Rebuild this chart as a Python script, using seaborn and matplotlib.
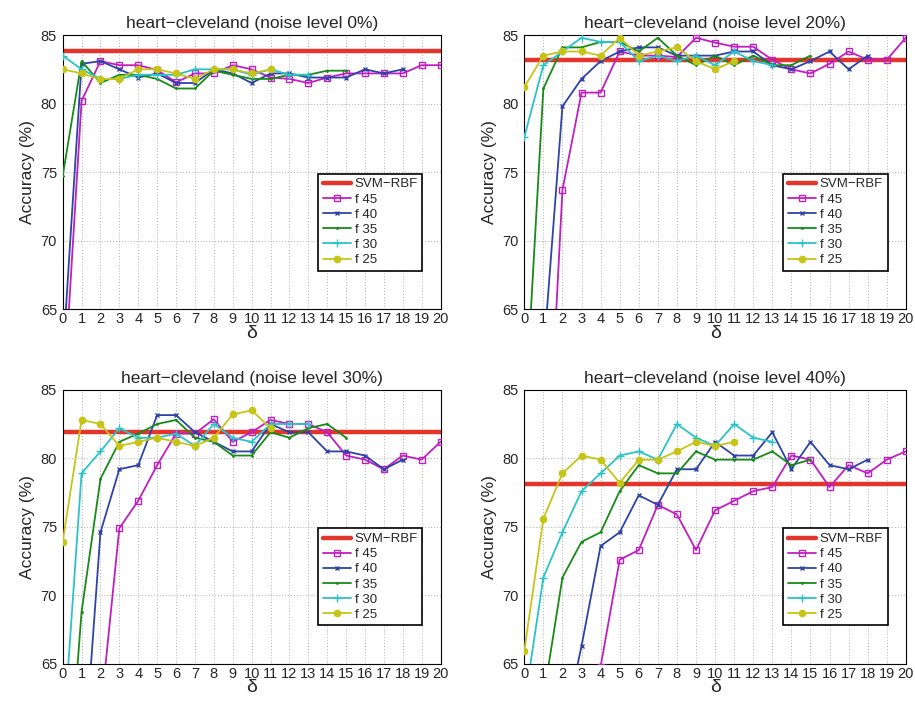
import numpy as np
import pandas as pd
import matplotlib
matplotlib.use('Agg')
import matplotlib.pyplot as plt
import seaborn as sns

# delta values
delta = list(range(21))

noise_levels = ['0%', '20%', '30%', '40%']
svm_rbf = [83.8, 83.15, 81.9, 78.15]

# noise 0%
n0_f45 = [57.5, 80.2, 83.1, 82.8, 82.8, 82.45, 81.55, 82.2, 82.2, 82.8, 82.5, 81.9, 81.8, 81.5, 81.9, 82.2, 82.2, 82.2, 82.2, 82.8, 82.8]
n0_f40 = [61.3, 82.9, 83.1, 82.5, 81.9, 82.2, 81.5, 81.5, 82.5, 82.2, 81.5, 82.2, 82.2, 81.9, 81.9, 81.9, 82.5, 82.2, 82.5]
n0_f35 = [74.7, 83.1, 81.5, 82.1, 82.1, 81.8, 81.1, 81.1, 82.4, 82.1, 81.8, 81.8, 82.1, 82.1, 82.4, 82.4]
n0_f30 = [83.5, 82.5, 81.8, 81.8, 82.1, 82.1, 82.1, 82.5, 82.5, 82.5, 82.1, 82.5, 82.1, 82.1]
n0_f25 = [82.5, 82.2, 81.8, 81.8, 82.5, 82.5, 82.2, 81.8, 82.5, 82.5, 82.2, 82.5]

# noise 20%
n20_f45 = [45.0, 46.6, 73.7, 80.8, 80.8, 83.8, 83.5, 83.5, 83.4, 84.8, 84.45, 84.15, 84.15, 83.2, 82.5, 82.2, 82.9, 83.8, 83.2, 83.2, 84.8]
n20_f40 = [55.0, 61.5, 79.8, 81.8, 83.1, 83.8, 84.1, 84.1, 83.5, 83.5, 83.5, 83.8, 83.8, 82.8, 82.5, 83.1, 83.8, 82.5, 83.5]
n20_f35 = [56.3, 81.1, 84.1, 84.1, 84.5, 84.5, 83.8, 84.8, 83.5, 82.8, 83.5, 82.8, 83.5, 82.8, 82.8, 83.5]
n20_f30 = [77.55, 82.8, 83.8, 84.8, 84.5, 84.5, 83.1, 83.5, 83.1, 83.5, 82.8, 83.8, 83.1, 82.8]
n20_f25 = [81.2, 83.5, 83.8, 83.8, 83.5, 84.8, 83.5, 83.8, 84.1, 83.1, 82.5, 83.1]

# noise 30%
n30_f45 = [50.0, 55.0, 61.3, 74.9, 76.9, 79.5, 81.8, 81.8, 82.85, 81.2, 81.9, 82.8, 82.5, 82.5, 81.9, 80.2, 79.9, 79.2, 80.2, 79.9, 81.2]
n30_f40 = [50.0, 55.4, 74.6, 79.2, 79.5, 83.15, 83.15, 81.9, 81.2, 80.5, 80.5, 82.5, 81.9, 81.9, 80.5, 80.5, 80.2, 79.2, 79.9]
n30_f35 = [50.6, 68.8, 78.5, 81.2, 81.8, 82.5, 82.8, 81.5, 81.2, 80.2, 80.2, 81.9, 81.5, 82.2, 82.5, 81.5]
n30_f30 = [59.0, 78.9, 80.5, 82.2, 81.5, 81.5, 81.8, 80.9, 82.5, 81.5, 81.2, 82.5, 82.5, 82.5]
n30_f25 = [73.9, 82.8, 82.5, 80.9, 81.2, 81.5, 81.2, 80.9, 81.5, 83.2, 83.5, 82.2]

# noise 40%
n40_f45 = [50.0, 54.0, 58.0, 61.0, 64.8, 72.6, 73.3, 76.6, 75.9, 73.3, 76.2, 76.9, 77.6, 77.9, 80.2, 79.9, 77.9, 79.5, 78.9, 79.9, 80.5]
n40_f40 = [52.0, 56.0, 59.8, 66.3, 73.6, 74.6, 77.3, 76.6, 79.2, 79.2, 81.2, 80.2, 80.2, 81.9, 79.2, 81.2, 79.5, 79.2, 79.9]
n40_f35 = [55.0, 62.5, 71.3, 73.9, 74.6, 77.6, 79.5, 78.9, 78.9, 80.5, 79.9, 79.9, 79.9, 80.5, 79.5, 79.9]
n40_f30 = [62.0, 71.3, 74.6, 77.6, 78.9, 80.2, 80.5, 79.9, 82.5, 81.5, 80.9, 82.5, 81.5, 81.2]
n40_f25 = [65.95, 75.6, 78.9, 80.2, 79.9, 78.2, 79.9, 79.9, 80.5, 81.2, 80.9, 81.2]

panels = [
    [n0_f45, n0_f40, n0_f35, n0_f30, n0_f25],
    [n20_f45, n20_f40, n20_f35, n20_f30, n20_f25],
    [n30_f45, n30_f40, n30_f35, n30_f30, n30_f25],
    [n40_f45, n40_f40, n40_f35, n40_f30, n40_f25],
]
series_names = ['f 45', 'f 40', 'f 35', 'f 30', 'f 25']
colors = ['#bf1fbf', '#2e43a6', '#178a17', '#2cc3c8', '#c6c416']
markers = ['s', 'x', '.', '+', 'o']
msizes = [4.5, 3.5, 2, 5.5, 4.5]

sns.set_style('white')
plt.rcParams['font.family'] = ['Liberation Sans', 'DejaVu Sans']

fig = plt.figure(figsize=(9.15, 7.01), dpi=100)
positions = [
    [0.0685, 0.559, 0.413, 0.391],
    [0.573, 0.559, 0.417, 0.391],
    [0.0685, 0.053, 0.413, 0.391],
    [0.573, 0.053, 0.417, 0.391],
]

for k, pos in enumerate(positions):
    ax = fig.add_axes(pos)
    ax.axhline(svm_rbf[k], color='#e3352b', lw=3.2, label='SVM\u2212RBF', zorder=1)
    for vals, name, c, m, ms in zip(panels[k], series_names, colors, markers, msizes):
        x = delta[:len(vals)]
        mfc = 'none' if m == 's' else c
        sns.lineplot(x=x, y=vals, ax=ax, color=c, marker=m, markersize=ms,
                     markerfacecolor=mfc, markeredgecolor=c, markeredgewidth=1.0,
                     lw=1.3, label=name, zorder=3)
    ax.set_xlim(0, 20)
    ax.set_ylim(65, 85)
    ax.set_xticks(delta)
    ax.set_yticks([65, 70, 75, 80, 85])
    ax.grid(True, color='#b0b0b0', linestyle=(0, (1, 2)), linewidth=0.7)
    ax.set_axisbelow(True)
    for sp in ax.spines.values():
        sp.set_color('black')
        sp.set_linewidth(0.8)
    ax.tick_params(axis='both', direction='in', length=3, labelsize=10.5, pad=2)
    ax.tick_params(axis='y', pad=4)
    ax.set_title(f'heart\u2212cleveland (noise level {noise_levels[k]})', fontsize=12.5, pad=5)
    ax.set_xlabel('\u03b4', fontsize=14, labelpad=-1)
    ax.set_ylabel('Accuracy (%)', fontsize=12.5, labelpad=4)
    leg = ax.legend(loc='lower right', bbox_to_anchor=(0.952, 0.14), fontsize=9.5,
                    frameon=True, fancybox=False, edgecolor='black', framealpha=1,
                    handlelength=2.1, handletextpad=0.3, borderpad=0.35,
                    labelspacing=0.22, borderaxespad=0)
    leg.get_frame().set_linewidth(1.2)

fig.savefig('out.png', dpi=100)
